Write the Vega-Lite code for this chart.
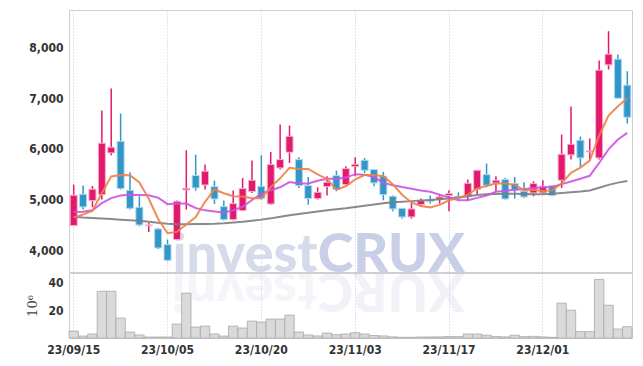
{
  "$schema": "https://vega.github.io/schema/vega-lite/v6.json",
  "padding": {"left": 26, "top": 9, "right": 10, "bottom": 5},
  "bounds": "flush",
  "background": "white",
  "data": {"values": [
    {"d":"23/09/15","o":4487,"h":5296,"l":4480,"c":5086,"v":5.0,"m5":4650,"m10":4755,"m60":4660},
    {"d":"23/09/18","o":5105,"h":5276,"l":4803,"c":4855,"v":1.4,"m5":4705,"m10":4760,"m60":4645},
    {"d":"23/09/19","o":4980,"h":5270,"l":4849,"c":5204,"v":2.9,"m5":4780,"m10":4790,"m60":4635},
    {"d":"23/09/20","o":5099,"h":6757,"l":5000,"c":6112,"v":33.8,"m5":5130,"m10":4930,"m60":4625},
    {"d":"23/09/21","o":5921,"h":7191,"l":5875,"c":6033,"v":33.8,"m5":5458,"m10":5030,"m60":4615},
    {"d":"23/09/22","o":6151,"h":6697,"l":5197,"c":5217,"v":14.4,"m5":5484,"m10":5080,"m60":4605},
    {"d":"23/09/25","o":5184,"h":5539,"l":4803,"c":4829,"v":4.3,"m5":5479,"m10":5095,"m60":4595},
    {"d":"23/09/26","o":4849,"h":5066,"l":4474,"c":4500,"v":2.2,"m5":5338,"m10":5090,"m60":4585},
    {"d":"23/09/27","o":4487,"h":4539,"l":4362,"c":4500,"v":0.7,"m5":5016,"m10":5085,"m60":4565},
    {"d":"23/10/04","o":4421,"h":4441,"l":4026,"c":4046,"v":0.7,"m5":4618,"m10":5038,"m60":4545},
    {"d":"23/10/05","o":4112,"h":4211,"l":3783,"c":3803,"v":0.7,"m5":4336,"m10":4910,"m60":4525},
    {"d":"23/10/06","o":4211,"h":4980,"l":4200,"c":4967,"v":10.1,"m5":4363,"m10":4921,"m60":4515},
    {"d":"23/10/10","o":5191,"h":5974,"l":4803,"c":5224,"v":32.4,"m5":4508,"m10":4923,"m60":4515},
    {"d":"23/10/11","o":5474,"h":5888,"l":5178,"c":5230,"v":7.9,"m5":4654,"m10":4835,"m60":4518},
    {"d":"23/10/12","o":5289,"h":5691,"l":5197,"c":5559,"v":8.6,"m5":4957,"m10":4788,"m60":4520},
    {"d":"23/10/13","o":5257,"h":5375,"l":4914,"c":5013,"v":2.9,"m5":5199,"m10":4767,"m60":4525},
    {"d":"23/10/16","o":4862,"h":4980,"l":4586,"c":4605,"v":1.4,"m5":5126,"m10":4745,"m60":4535},
    {"d":"23/10/17","o":4605,"h":5178,"l":4592,"c":4921,"v":8.6,"m5":5066,"m10":4787,"m60":4550},
    {"d":"23/10/18","o":4783,"h":5428,"l":4770,"c":5217,"v":7.2,"m5":5063,"m10":4859,"m60":4565},
    {"d":"23/10/19","o":5158,"h":5770,"l":5132,"c":5382,"v":12.2,"m5":5028,"m10":4992,"m60":4585},
    {"d":"23/10/20","o":5263,"h":5875,"l":5000,"c":5020,"v":11.5,"m5":5029,"m10":5114,"m60":4605},
    {"d":"23/10/23","o":4914,"h":5941,"l":4901,"c":5691,"v":13.7,"m5":5246,"m10":5186,"m60":4630},
    {"d":"23/10/24","o":5625,"h":6480,"l":5592,"c":5789,"v":13.7,"m5":5420,"m10":5243,"m60":4660},
    {"d":"23/10/25","o":5934,"h":6461,"l":5724,"c":6250,"v":16.5,"m5":5626,"m10":5345,"m60":4690},
    {"d":"23/10/26","o":5789,"h":5836,"l":5230,"c":5276,"v":4.3,"m5":5605,"m10":5316,"m60":4715},
    {"d":"23/10/27","o":5276,"h":5447,"l":4901,"c":5020,"v":2.2,"m5":5605,"m10":5317,"m60":4740},
    {"d":"23/10/30","o":5020,"h":5243,"l":5000,"c":5145,"v":1.5,"m5":5496,"m10":5371,"m60":4765},
    {"d":"23/10/31","o":5257,"h":5461,"l":5079,"c":5342,"v":3.6,"m5":5407,"m10":5413,"m60":4790},
    {"d":"23/11/01","o":5474,"h":5572,"l":5164,"c":5197,"v":2.4,"m5":5196,"m10":5411,"m60":4810},
    {"d":"23/11/02","o":5296,"h":5658,"l":5283,"c":5612,"v":2.9,"m5":5263,"m10":5434,"m60":4830},
    {"d":"23/11/03","o":5651,"h":5836,"l":5461,"c":5697,"v":3.8,"m5":5399,"m10":5502,"m60":4855},
    {"d":"23/11/06","o":5776,"h":5822,"l":5526,"c":5579,"v":2.9,"m5":5485,"m10":5491,"m60":4880},
    {"d":"23/11/07","o":5592,"h":5605,"l":5263,"c":5329,"v":1.8,"m5":5483,"m10":5445,"m60":4905},
    {"d":"23/11/08","o":5461,"h":5546,"l":4987,"c":5099,"v":1.5,"m5":5463,"m10":5330,"m60":4930},
    {"d":"23/11/09","o":5066,"h":5079,"l":4770,"c":4816,"v":0.8,"m5":5304,"m10":5284,"m60":4950},
    {"d":"23/11/10","o":4829,"h":4836,"l":4625,"c":4658,"v":0.5,"m5":5096,"m10":5247,"m60":4960},
    {"d":"23/11/13","o":4658,"h":4934,"l":4625,"c":4816,"v":0.5,"m5":4944,"m10":5215,"m60":4970},
    {"d":"23/11/14","o":4901,"h":5020,"l":4855,"c":4980,"v":0.7,"m5":4874,"m10":5178,"m60":4980},
    {"d":"23/11/15","o":5000,"h":5079,"l":4921,"c":4967,"v":0.8,"m5":4847,"m10":5155,"m60":4990},
    {"d":"23/11/16","o":5007,"h":5112,"l":4921,"c":5053,"v":0.8,"m5":4895,"m10":5099,"m60":5005},
    {"d":"23/11/17","o":5079,"h":5184,"l":4770,"c":5118,"v":1.0,"m5":4987,"m10":5042,"m60":5020},
    {"d":"23/11/20","o":5066,"h":5145,"l":5000,"c":5033,"v":1.0,"m5":5030,"m10":4987,"m60":5040},
    {"d":"23/11/21","o":5066,"h":5395,"l":4987,"c":5322,"v":2.9,"m5":5099,"m10":4986,"m60":5065},
    {"d":"23/11/22","o":5197,"h":5579,"l":5099,"c":5579,"v":2.9,"m5":5221,"m10":5034,"m60":5090},
    {"d":"23/11/23","o":5493,"h":5711,"l":5243,"c":5283,"v":2.0,"m5":5267,"m10":5081,"m60":5105},
    {"d":"23/11/24","o":5329,"h":5461,"l":5164,"c":5382,"v":1.0,"m5":5320,"m10":5153,"m60":5112},
    {"d":"23/11/27","o":5395,"h":5428,"l":5000,"c":5013,"v":0.8,"m5":5316,"m10":5173,"m60":5115},
    {"d":"23/11/28","o":5316,"h":5447,"l":5020,"c":5197,"v":2.0,"m5":5291,"m10":5195,"m60":5115},
    {"d":"23/11/29","o":5164,"h":5342,"l":5033,"c":5053,"v":1.0,"m5":5186,"m10":5203,"m60":5110},
    {"d":"23/11/30","o":5132,"h":5362,"l":5066,"c":5316,"v":1.2,"m5":5192,"m10":5230,"m60":5105},
    {"d":"23/12/01","o":5132,"h":5382,"l":5112,"c":5263,"v":0.8,"m5":5168,"m10":5244,"m60":5105},
    {"d":"23/12/04","o":5276,"h":5276,"l":5066,"c":5079,"v":0.5,"m5":5182,"m10":5249,"m60":5115},
    {"d":"23/12/05","o":5382,"h":6283,"l":5230,"c":5895,"v":25.2,"m5":5321,"m10":5306,"m60":5130},
    {"d":"23/12/06","o":5882,"h":6836,"l":5789,"c":6092,"v":20.1,"m5":5529,"m10":5357,"m60":5145},
    {"d":"23/12/07","o":6171,"h":6243,"l":5645,"c":5822,"v":4.6,"m5":5630,"m10":5411,"m60":5160},
    {"d":"23/12/08","o":5941,"h":6204,"l":5770,"c":5961,"v":4.6,"m5":5770,"m10":5469,"m60":5180},
    {"d":"23/12/11","o":5822,"h":7743,"l":5789,"c":7553,"v":42.4,"m5":6265,"m10":5723,"m60":5235},
    {"d":"23/12/12","o":7658,"h":8322,"l":7566,"c":7868,"v":23.7,"m5":6659,"m10":5990,"m60":5290},
    {"d":"23/12/13","o":7770,"h":7862,"l":6987,"c":7000,"v":6.5,"m5":6841,"m10":6185,"m60":5335},
    {"d":"23/12/14","o":7257,"h":7533,"l":6500,"c":6625,"v":8.2,"m5":7001,"m10":6316,"m60":5365}
  ]},
  "spacing": 1,
  "vconcat": [
    {
      "width": 563,
      "height": 262,
      "encoding": {
        "x": {"field": "d", "type": "ordinal",
          "scale": {"type": "band", "paddingInner": 0, "paddingOuter": 0},
          "axis": {"labels": false, "ticks": false, "domain": false, "title": null, "grid": true, "bandPosition": 0.5,
            "values": ["23/09/15","23/10/05","23/10/20","23/11/03","23/11/17","23/12/01"]}}
      },
      "layer": [
        {
          "data": {"values": [{"w": "invest"}]},
          "mark": {"type": "text", "text": "invest", "align": "right", "baseline": "alphabetic", "font": "Lato", "fontWeight": 900, "fontSize": 54, "color": "#d6dbeb"},
          "encoding": {"x": {"datum": "23/10/30"}, "y": {"datum": 3572, "type": "quantitative"}}
        },
        {
          "data": {"values": [{"w": "CRUX"}]},
          "mark": {"type": "text", "text": "CRUX", "align": "left", "baseline": "alphabetic", "font": "Lato", "fontWeight": 900, "fontSize": 54, "color": "#c8cfe6"},
          "encoding": {"x": {"datum": "23/10/30"}, "y": {"datum": 3572, "type": "quantitative"}}
        },
        {
          "mark": {"type": "rule", "strokeWidth": 1.5},
          "encoding": {
            "y": {"field": "l", "type": "quantitative",
              "scale": {"domain": [3572, 8740], "nice": false, "zero": false},
              "axis": {"values": [4000, 5000, 6000, 7000, 8000], "format": ",d", "title": null, "labelPadding": 6}},
            "y2": {"field": "h"},
            "color": {"condition": {"test": "datum.c >= datum.o", "value": "#e2196c"}, "value": "#3197c8"}
          }
        },
        {
          "mark": {"type": "bar", "width": {"band": 0.75}, "strokeWidth": 1},
          "encoding": {
            "y": {"field": "o", "type": "quantitative"},
            "y2": {"field": "c"},
            "color": {"condition": {"test": "datum.c >= datum.o", "value": "#e2196c"}, "value": "#3197c8"},
            "stroke": {"condition": {"test": "datum.c >= datum.o", "value": "#f6b3cc"}, "value": "#b3d8ec"}
          }
        },
        {
          "mark": {"type": "line", "color": "#7d7d7d", "strokeWidth": 2, "opacity": 0.9},
          "encoding": {"y": {"field": "m60", "type": "quantitative"}}
        },
        {
          "mark": {"type": "line", "color": "#cc52e4", "strokeWidth": 2, "opacity": 0.9},
          "encoding": {"y": {"field": "m10", "type": "quantitative"}}
        },
        {
          "mark": {"type": "line", "color": "#f07f45", "strokeWidth": 2, "opacity": 0.9},
          "encoding": {"y": {"field": "m5", "type": "quantitative"}}
        }
      ]
    },
    {
      "width": 563,
      "height": 65,
      "encoding": {
        "x": {"field": "d", "type": "ordinal",
          "scale": {"type": "band", "paddingInner": 0, "paddingOuter": 0},
          "axis": {"labelAngle": 0, "title": null, "grid": true, "bandPosition": 0.5, "labelPadding": 6,
            "values": ["23/09/15","23/10/05","23/10/20","23/11/03","23/11/17","23/12/01"]}}
      },
      "layer": [
        {
          "data": {"values": [{"w": "tsevni"}]},
          "mark": {"type": "text", "text": "tsevni", "angle": 180, "align": "left", "baseline": "alphabetic", "font": "Lato", "fontWeight": 900, "fontSize": 54, "color": "#d6dbeb", "opacity": 0.25},
          "encoding": {"x": {"datum": "23/10/30"}, "y": {"datum": 47, "type": "quantitative"}}
        },
        {
          "data": {"values": [{"w": "XURC"}]},
          "mark": {"type": "text", "text": "XURC", "angle": 180, "align": "right", "baseline": "alphabetic", "font": "Lato", "fontWeight": 900, "fontSize": 54, "color": "#c8cfe6", "opacity": 0.25},
          "encoding": {"x": {"datum": "23/10/30"}, "y": {"datum": 47, "type": "quantitative"}}
        },
        {
          "mark": {"type": "bar", "color": "#dadada", "stroke": "#a8a8a8", "strokeWidth": 0.8},
          "encoding": {
            "y": {"field": "v", "type": "quantitative",
              "scale": {"domain": [0, 47], "nice": false},
              "axis": {"values": [20, 40], "title": "10⁶", "titleFont": "DejaVu Serif", "titleFontWeight": "normal", "titleFontSize": 13, "titleColor": "#444", "labelPadding": 6, "titlePadding": 8}}
          }
        }
      ]
    }
  ],
  "config": {
    "view": {"stroke": "#cfcfcf"},
    "axis": {"labelFont": "DejaVu Sans Condensed", "labelFontWeight": "bold", "labelFontSize": 12, "labelColor": "#333333",
      "gridColor": "#c3c8de", "gridDash": [1, 2], "gridWidth": 1, "ticks": false, "domain": false}
  }
}
